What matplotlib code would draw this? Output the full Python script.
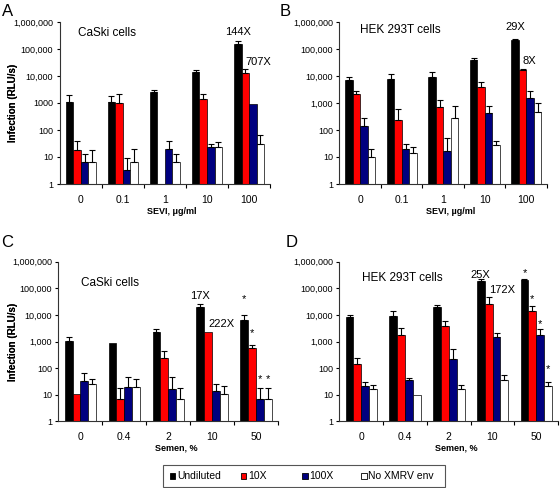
import matplotlib.pyplot as plt
from matplotlib.patches import Rectangle
import numpy as np

plt.rcParams['font.family'] = ['Liberation Sans', 'DejaVu Sans']

nan = np.nan

# x categories
sevi_doses = ["0", "0.1", "1", "10", "100"]
semen_doses = ["0", "0.4", "2", "10", "50"]

series_names = ["Undiluted", "10X", "100X", "No XMRV env"]
series_colors = ["#000000", "#ff0000", "#00007f", "#ffffff"]

# A - CaSki cells, SEVI  (mean, top of error bar) per series
a_vals = [[1100, 1100, 2500, 13600, 155000],
          [18, 960, nan, 1350, 13000],
          [6.8, 3.3, 20, 24, 930],
          [6.8, 6.8, 6.8, 24, 31]]
a_tops = [[1950, 1800, 3000, 16000, 192000],
          [39, 2150, nan, 2150, 18000],
          [12.4, 9.3, 39, 30, nan],
          [18, 19, 12.7, 37, 67]]

# B - HEK 293T cells, SEVI
b_vals = [[6900, 8000, 9500, 39000, 215000],
          [2100, 235, 690, 4000, 16000],
          [145, 20, 17, 415, 1500],
          [9.7, 13.7, 280, 27, 460]]
b_tops = [[9500, 11700, 14000, 46000, 240000],
          [2850, 580, 1300, 6000, 18500],
          [290, 31, 49, 750, 2800],
          [20, 24, 750, 40, 1000]]

# C - CaSki cells, semen
c_vals = [[1080, 860, 2300, 19300, 6500],
          [10.4, 6.7, 240, 2300, 590],
          [33, 20, 17, 13.8, 6.7],
          [24.6, 20, 6.7, 10.4, 6.7]]
c_tops = [[1520, nan, 3000, 25000, 9600],
          [nan, 18.4, 430, nan, 760],
          [66, 48, 48, 26, 18.4],
          [39, 40, 18.4, 20.6, 18.4]]

# D - HEK 293T cells, semen
d_vals = [[8500, 9200, 19300, 195000, 205000],
          [144, 1700, 3800, 25000, 14000],
          [22, 36, 227, 1440, 1770],
          [16.5, 10, 16.5, 36, 21]]
d_tops = [[9900, 14500, 24000, 230000, 215000],
          [235, 3200, 6100, 49000, 21000],
          [29, 42.5, 540, 2000, 2900],
          [24, nan, 24, 53, 30]]

# fold labels: (text, series, group, y)
a_notes = [("144X", 0, 4, 4.3e5), ("707X", 1, 4, 3.3e4)]
b_notes = [("29X", 0, 4, 6.5e5), ("8X", 1, 4, 3.6e4)]
c_notes = [("17X", 0, 3, 5.1e4), ("222X", 1, 3, 4.6e3)]
d_notes = [("25X", 0, 3, 3.2e5), ("172X", 1, 3, 8.7e4)]

# significance stars on last group, one per series
c_stars = [4.0e4, 2.0e3, 40, 40]
d_stars = [3.6e5, 4.0e4, 4.5e3, 93]

ylabels_a = ["1", "10", "100", "1000", "10,000", "100,000", "1,000,000"]
ylabels_b = ["1", "10", "100", "1,000", "10,000", "100,000", "1,000,000"]

fig = plt.figure(figsize=(5.6, 4.88), dpi=100)

W, H = 560.0, 488.0
bw = 0.18
off = 0.144


def panel(rect, vals, tops, doses, ylabs, cells, cells_pos, xlabel, notes, stars=None):
    l, t, r, b = rect
    ax = fig.add_axes([l / W, 1 - b / H, (r - l) / W, (b - t) / H])
    ax.set_yscale('log')
    ax.set_ylim(1, 1e6)
    ax.set_xlim(0, 5)
    x0 = np.arange(5)
    for s in range(4):
        xs = x0 + off + bw * s + bw / 2
        v = np.array(vals[s], dtype=float)
        tp = np.array(tops[s], dtype=float)
        ok = ~np.isnan(v)
        ax.bar(xs[ok], v[ok] - 1, bottom=1, width=bw, color=series_colors[s],
               edgecolor='black', linewidth=0.5, zorder=2)
        ek = ok & ~np.isnan(tp)
        up = tp[ek] - v[ek]
        ax.errorbar(xs[ek], v[ek], yerr=[np.zeros_like(up), up], fmt='none',
                    ecolor='black', elinewidth=0.8, capsize=2.2, capthick=0.8, zorder=3)
    for txt, s, g, y in notes:
        xc = g + off + bw * s + bw / 2
        ax.text(xc, y, txt, fontsize=8, ha='center' if s == 0 else 'left', va='center')
    if stars is not None:
        for s, y in enumerate(stars):
            xc = 4 + off + bw * s + bw / 2
            ax.text(xc, y, "*", fontsize=8, ha='center', va='center')

    for sp in ['top', 'right']:
        ax.spines[sp].set_visible(False)
    for sp in ['left', 'bottom']:
        ax.spines[sp].set_linewidth(0.8)
        ax.spines[sp].set_color('#333333')
    ax.set_yticks([10 ** k for k in range(7)])
    ax.set_yticklabels(ylabs)
    ax.yaxis.set_minor_locator(plt.NullLocator())
    ax.tick_params(axis='y', which='major', length=2.5, width=0.8, pad=2, labelsize=6.5)
    ax.set_xticks(x0 + 0.5)
    ax.set_xticklabels(doses)
    ax.set_xticks([1, 2, 3, 4, 5], minor=True)
    ax.tick_params(axis='x', which='major', length=0, pad=8, labelsize=7.5)
    ax.tick_params(axis='x', which='minor', length=3, width=0.8)
    ax.text(0.535, -0.17, xlabel, transform=ax.transAxes, fontsize=6.5,
            fontweight='bold', ha='center', va='center')
    ax.text((13 - l) / (r - l), 0.5, "Infection (RLU/s)", transform=ax.transAxes,
            rotation=90, fontsize=7, fontweight='bold', ha='center', va='center')
    ax.text(cells_pos[0], cells_pos[1], cells, transform=ax.transAxes, fontsize=8.5,
            ha='left', va='center')
    return ax


panel((59.5, 22, 270, 184), a_vals, a_tops, sevi_doses, ylabels_a,
      "CaSki cells", (0.088, 0.93), "SEVI, \u03bcg/ml", a_notes)
panel((339.3, 22, 547, 184), b_vals, b_tops, sevi_doses, ylabels_b,
      "HEK 293T cells", (0.1, 0.95), "SEVI, \u00b5g/ml", b_notes)
panel((58.3, 261.7, 278, 421.3), c_vals, c_tops, semen_doses, ylabels_b,
      "CaSki cells", (0.105, 0.867), "Semen, %", c_notes, c_stars)
panel((339.3, 261.7, 558, 421.3), d_vals, d_tops, semen_doses, ylabels_b,
      "HEK 293T cells", (0.105, 0.9), "Semen, %", d_notes, d_stars)

# panel letters
for letter, px, py in [("A", 8, 11), ("B", 285, 11), ("C", 7, 242), ("D", 292, 242)]:
    fig.text(px / W, 1 - py / H, letter, fontsize=12, ha='center', va='center')

# legend drawn by hand to match the spacing of the original
fig.add_artist(Rectangle((163 / W, 1 - 487 / H), (445 - 163) / W, 22 / H,
                         transform=fig.transFigure, fill=False, edgecolor='#555555', linewidth=0.8))
for name, col, sx in zip(series_names, series_colors, [172.5, 243.5, 305, 364]):
    fig.add_artist(Rectangle(((sx - 2.8) / W, 1 - 478.8 / H), 5.6 / W, 5.6 / H,
                             transform=fig.transFigure, facecolor=col,
                             edgecolor='black', linewidth=0.6))
    fig.text((sx + 4.5) / W, 1 - 476 / H, name, fontsize=7.5, ha='left', va='center')

fig.savefig("out.png", dpi=100)
